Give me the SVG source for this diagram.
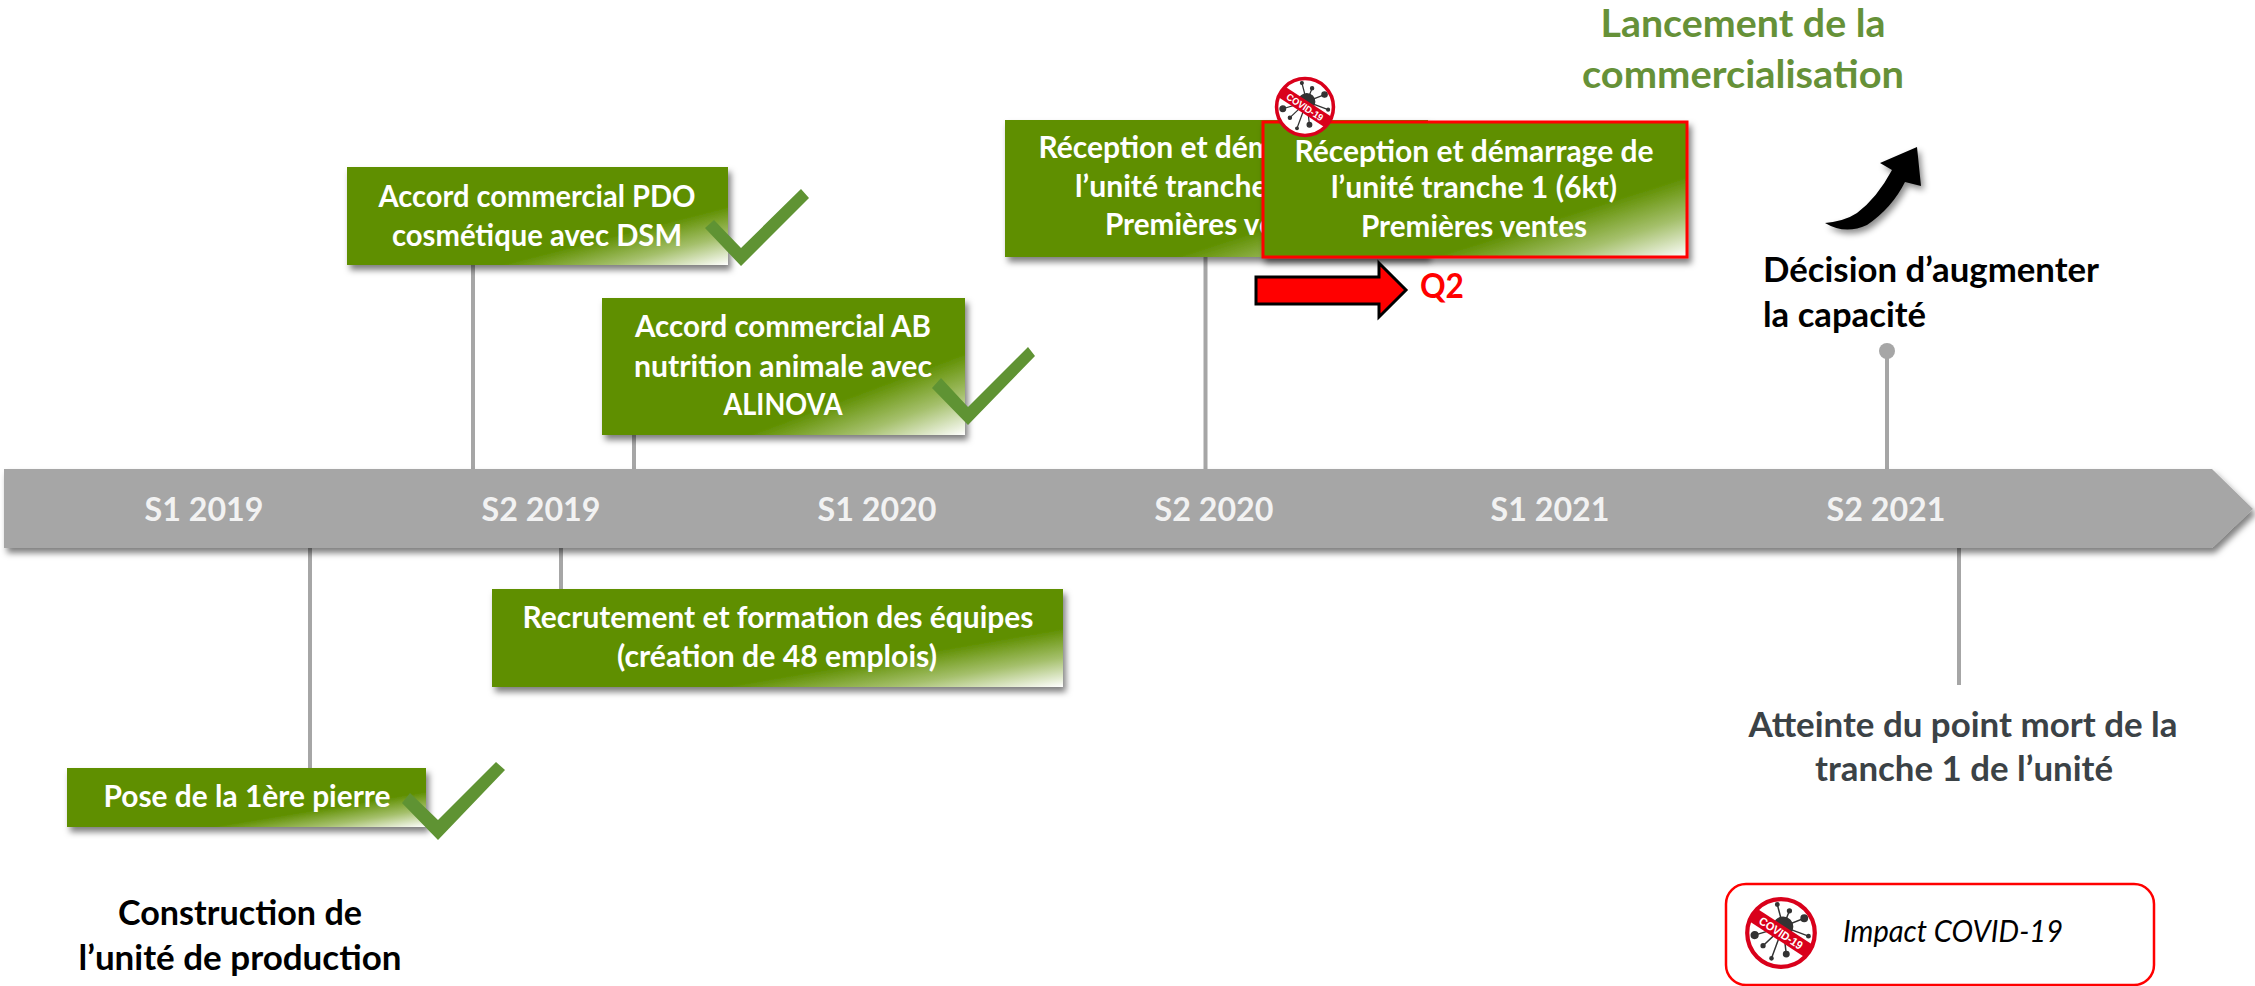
<svg xmlns="http://www.w3.org/2000/svg" xmlns:xlink="http://www.w3.org/1999/xlink" width="2255" height="986" viewBox="0 0 2255 986">
<style>
text{font-family:Lato,"Liberation Sans",sans-serif;font-weight:700;text-anchor:middle}
.w{fill:#fff;font-size:30px}
.ax{fill:#f2f2f2;font-size:33px}
.k{fill:#000;font-size:34px}
.g{fill:#669138;font-size:39px}
.d{fill:#3b4246;font-size:34px}
.s{text-anchor:start}
.box{fill:url(#boxg);filter:url(#sh)}
.cn{stroke:#a6a6a6;stroke-width:4;fill:none}
.chk{fill:#5f9333}
</style>
<defs>
<linearGradient id="boxg" x1="0" y1="0" x2="1" y2="1">
<stop offset="0" stop-color="#5f8f00"/><stop offset=".7" stop-color="#5f8f00"/><stop offset=".85" stop-color="#a5c06c"/><stop offset="1" stop-color="#fff"/>
</linearGradient>
<filter id="sh" x="-10%" y="-10%" width="120%" height="130%"><feDropShadow dx="3" dy="5" stdDeviation="3" flood-color="#000" flood-opacity=".5"/></filter>
<filter id="sh2" x="-20%" y="-20%" width="150%" height="150%"><feDropShadow dx="3" dy="4" stdDeviation="3" flood-color="#000" flood-opacity=".45"/></filter>
<clipPath id="vc"><circle r="32"/></clipPath>
<symbol id="virus" viewBox="-36 -36 72 72" overflow="visible">
<circle r="32" fill="#fff"/>
<g stroke="#333" stroke-width="1.4" fill="#333">
<path d="M2 -6L-3.500 -27M2 -6L8 -21M2 -6L22 -14M2 -6L26 3M2 -6L5 20M2 -6L-9 24M2 -6L-17 12M2 -6L-25 2"/>
<circle cx="-3.500" cy="-27" r="1.600"/><circle cx="8" cy="-21" r="1.800"/><circle cx="22" cy="-14" r="3"/><circle cx="26" cy="3" r="1.600"/><circle cx="5" cy="20" r="2.600"/><circle cx="-9" cy="24" r="1.500"/><circle cx="-17" cy="12" r="1.800"/><circle cx="-25" cy="2" r="3.200"/>
<circle cx="2" cy="-6" r="9"/>
</g>
<g clip-path="url(#vc)"><rect x="-34" y="-7" width="68" height="14" transform="rotate(33)" fill="#d9001b"/></g>
<circle r="32" fill="none" stroke="#d9001b" stroke-width="4"/>
<text transform="rotate(33)" y="4" font-size="11" fill="#fff" textLength="47" lengthAdjust="spacingAndGlyphs" style="font-family:'Liberation Sans',sans-serif;font-weight:700">COVID-19</text>
</symbol>
</defs>
<rect width="2255" height="986" fill="#fff"/>

<g id="connectors">
<path class="cn" d="M473 265V469"/>
<path class="cn" d="M634 435V469"/>
<path class="cn" d="M1205.500 257V469"/>
<path class="cn" d="M1887 351V469"/>
<path class="cn" d="M310 548V768"/>
<path class="cn" d="M561 548V589"/>
<path class="cn" d="M1959 548V685"/>
<circle cx="1887" cy="351" r="8" fill="#a6a6a6"/>
</g>

<g id="timeline">
<path d="M4 469H2212L2253 509L2212 548H4Z" fill="#a6a6a6" filter="url(#sh)"/>
<text class="ax" x="204" y="521" textLength="119" lengthAdjust="spacingAndGlyphs">S1 2019</text>
<text class="ax" x="541" y="521" textLength="119" lengthAdjust="spacingAndGlyphs">S2 2019</text>
<text class="ax" x="877" y="521" textLength="119" lengthAdjust="spacingAndGlyphs">S1 2020</text>
<text class="ax" x="1214" y="521" textLength="119" lengthAdjust="spacingAndGlyphs">S2 2020</text>
<text class="ax" x="1550" y="521" textLength="119" lengthAdjust="spacingAndGlyphs">S1 2021</text>
<text class="ax" x="1886" y="521" textLength="119" lengthAdjust="spacingAndGlyphs">S2 2021</text>
</g>

<g id="node-pdo">
<rect class="box" x="347" y="167" width="381" height="98"/>
<text class="w" x="537" y="207" textLength="317" lengthAdjust="spacingAndGlyphs">Accord commercial PDO</text>
<text class="w" x="537" y="246" textLength="290" lengthAdjust="spacingAndGlyphs">cosmétique avec DSM</text>
<path class="chk" d="M705 228L714 220L741 248L801 189L809 198L741 266Z"/>
</g>

<g id="node-ab">
<rect class="box" x="602" y="298" width="363" height="137"/>
<text class="w" x="783" y="337" textLength="296" lengthAdjust="spacingAndGlyphs">Accord commercial AB</text>
<text class="w" x="783" y="377" textLength="298" lengthAdjust="spacingAndGlyphs">nutrition animale avec</text>
<text class="w" x="783" y="415" textLength="119" lengthAdjust="spacingAndGlyphs">ALINOVA</text>
<path class="chk" d="M932 388L941 378L968 407L1028 347L1035 356L968 425Z"/>
</g>

<g id="node-reception-initial">
<rect class="box" x="1005" y="120" width="423" height="137"/>
<text class="w" x="1218" y="158" textLength="359" lengthAdjust="spacingAndGlyphs">Réception et démarrage de</text>
<text class="w" x="1218" y="197" textLength="286" lengthAdjust="spacingAndGlyphs">l’unité tranche 1 (6kt)</text>
<text class="w" x="1218" y="235" textLength="226" lengthAdjust="spacingAndGlyphs">Premières ventes</text>
</g>

<g id="node-reception-revised">
<rect x="1263" y="122" width="424" height="135" fill="url(#boxg)" stroke="#ff0000" stroke-width="3" filter="url(#sh)"/>
<text class="w" x="1474" y="162" textLength="359" lengthAdjust="spacingAndGlyphs">Réception et démarrage de</text>
<text class="w" x="1474" y="198" textLength="286" lengthAdjust="spacingAndGlyphs">l’unité tranche 1 (6kt)</text>
<text class="w" x="1474" y="237" textLength="226" lengthAdjust="spacingAndGlyphs">Premières ventes</text>
</g>

<g id="covid-marker"><use xlink:href="#virus" href="#virus" x="1273" y="75" width="64" height="64"/></g>

<g id="delay-q2">
<path d="M1256 277H1379V263L1406 290L1379 317V304H1256Z" fill="#ff0000" stroke="#000" stroke-width="3"/>
<text x="1442" y="298" fill="#ff0000" font-size="34" textLength="44" lengthAdjust="spacingAndGlyphs">Q2</text>
</g>

<g id="node-launch">
<text class="g" x="1743" y="37" textLength="285" lengthAdjust="spacingAndGlyphs">Lancement de la</text>
<text class="g" x="1743" y="88" textLength="322" lengthAdjust="spacingAndGlyphs">commercialisation</text>
</g>

<g id="growth-arrow">
<path d="M1825 223Q1845 221 1857 213Q1877 198 1892 170L1880 163L1917 147L1921 186L1905 182Q1892 208 1867 225Q1845 235 1825 223Z" fill="#000" filter="url(#sh2)"/>
</g>

<g id="node-decision">
<text class="k s" x="1763" y="282" textLength="336" lengthAdjust="spacingAndGlyphs">Décision d’augmenter</text>
<text class="k s" x="1763" y="327" textLength="163" lengthAdjust="spacingAndGlyphs">la capacité</text>
</g>

<g id="node-recruit">
<rect class="box" x="492" y="589" width="571" height="98"/>
<text class="w" x="778" y="628" textLength="511" lengthAdjust="spacingAndGlyphs">Recrutement et formation des équipes</text>
<text class="w" x="777" y="667" textLength="320" lengthAdjust="spacingAndGlyphs">(création de 48 emplois)</text>
</g>

<g id="node-pose">
<rect class="box" x="67" y="768" width="359" height="59"/>
<text class="w" x="247" y="807" textLength="287" lengthAdjust="spacingAndGlyphs">Pose de la 1ère pierre</text>
<path class="chk" d="M402 803L410 793L438 820L496 762L505 770L438 840Z"/>
</g>

<g id="node-construction">
<text class="k" x="240" y="925" textLength="244" lengthAdjust="spacingAndGlyphs">Construction de</text>
<text class="k" x="240" y="970" textLength="323" lengthAdjust="spacingAndGlyphs">l’unité de production</text>
</g>

<g id="node-breakeven">
<text class="d" x="1963" y="737" textLength="429" lengthAdjust="spacingAndGlyphs">Atteinte du point mort de la</text>
<text class="d" x="1964" y="781" textLength="298" lengthAdjust="spacingAndGlyphs">tranche 1 de l’unité</text>
</g>

<g id="legend">
<rect x="1726" y="884" width="428" height="101" rx="20" fill="#fff" stroke="#ff0000" stroke-width="2.500"/>
<use xlink:href="#virus" href="#virus" x="1743" y="895" width="76" height="76"/>
<text class="s" x="1843" y="942" fill="#000" font-size="30" textLength="220" lengthAdjust="spacingAndGlyphs" style="font-weight:400;font-style:italic">Impact COVID-19</text>
</g>
</svg>
